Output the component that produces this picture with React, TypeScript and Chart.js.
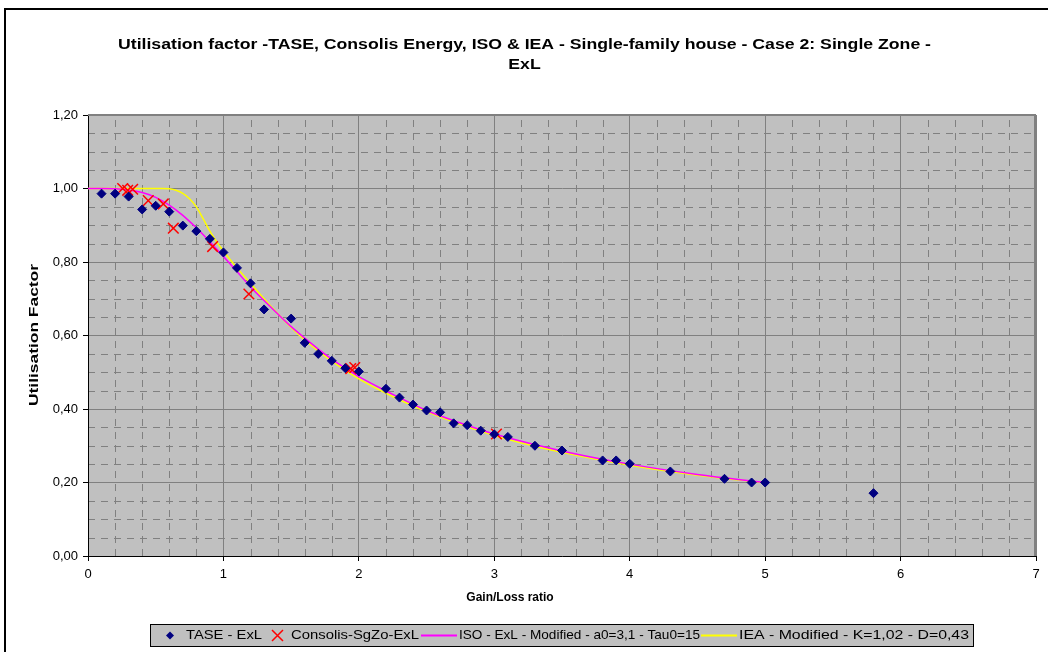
import React, { useEffect, useRef } from "react";
import { Chart, registerables } from "chart.js";

Chart.register(...registerables);

const TITLE_LINES = [
  "Utilisation factor -TASE, Consolis Energy, ISO & IEA - Single-family house - Case 2: Single Zone -",
  "ExL",
];
const X_TITLE = "Gain/Loss ratio";
const Y_TITLE = "Utilisation Factor";
const SERIES_NAMES = [
  "TASE - ExL",
  "Consolis-SgZo-ExL",
  "ISO - ExL - Modified - a0=3,1 - Tau0=15",
  "IEA - Modified - K=1,02 - D=0,43",
];

const X_MIN = 0;
const X_MAX = 7;
const X_STEP = 1;
const Y_MIN = 0;
const Y_MAX = 1.2;
const Y_STEP = 0.2;

const taseX = [0.1, 0.2, 0.3, 0.4, 0.5, 0.6, 0.7, 0.8, 0.9, 1.0, 1.1, 1.2, 1.3, 1.5, 1.6, 1.7, 1.8, 1.9, 2.0, 2.2, 2.3, 2.4, 2.5, 2.6, 2.7, 2.8, 2.9, 3.0, 3.1, 3.3, 3.5, 3.8, 3.9, 4.0, 4.3, 4.7, 4.9, 5.0, 5.8];
const taseY = [0.986, 0.986, 0.978, 0.943, 0.953, 0.937, 0.899, 0.884, 0.863, 0.826, 0.784, 0.742, 0.671, 0.646, 0.58, 0.55, 0.531, 0.511, 0.502, 0.455, 0.431, 0.412, 0.396, 0.391, 0.361, 0.356, 0.341, 0.331, 0.324, 0.3, 0.287, 0.26, 0.26, 0.251, 0.23, 0.21, 0.2, 0.2, 0.171];

const consolisX = [0.256, 0.293, 0.33, 0.445, 0.556, 0.63, 0.92, 1.188, 1.94, 1.97, 3.016];
const consolisY = [1.0, 0.995, 0.998, 0.967, 0.958, 0.892, 0.842, 0.713, 0.51, 0.513, 0.332];

const isoX = [0, 0.1, 0.2, 0.3, 0.4, 0.5, 0.6, 0.7, 0.8, 0.9, 1.0, 1.1, 1.2, 1.3, 1.4, 1.5, 1.6, 1.7, 1.8, 1.9, 2.0, 2.25, 2.5, 2.75, 3.0, 3.5, 4.0, 4.5, 5.0];
const isoY = [1.0, 1.0, 0.999, 0.996, 0.989, 0.976, 0.955, 0.927, 0.893, 0.855, 0.815, 0.774, 0.732, 0.695, 0.659, 0.624, 0.593, 0.563, 0.536, 0.511, 0.488, 0.44, 0.396, 0.362, 0.332, 0.286, 0.25, 0.222, 0.2];

const ieaX = [0, 0.55, 0.6, 0.65, 0.7, 0.75, 0.8, 0.85, 0.9, 0.95, 1.0, 1.1, 1.2, 1.3, 1.4, 1.5, 1.6, 1.8, 2.0, 2.25, 2.5, 3.0, 3.5, 4.0, 4.5, 5.0];
const ieaY = [1.0, 1.0, 0.999, 0.995, 0.987, 0.972, 0.95, 0.918, 0.884, 0.855, 0.83, 0.784, 0.742, 0.7, 0.66, 0.622, 0.588, 0.53, 0.482, 0.434, 0.393, 0.328, 0.282, 0.247, 0.22, 0.199];

const COLORS = {
  tase: "#000080",
  consolis: "#FF0000",
  iso: "#FF00FF",
  iea: "#FFFF00",
  plot: "#C0C0C0",
  grid: "#808080",
};

const FONT = "'Liberation Sans', Arial, sans-serif";

function pts(xs: number[], ys: number[]) {
  return xs.map((x, i) => ({ x, y: ys[i] }));
}

function fitText(ctx: CanvasRenderingContext2D, text: string, x: number, y: number, sx: number, align: "left" | "center") {
  ctx.save();
  ctx.translate(x, y);
  ctx.scale(sx, 1);
  ctx.textAlign = align;
  ctx.textBaseline = "middle";
  ctx.fillText(text, 0, 0);
  ctx.restore();
}

const decorPlugin = {
  id: "decor",
  beforeDraw(chart: any) {
    const { ctx, chartArea: a, scales } = chart;
    ctx.save();
    ctx.fillStyle = "#FFFFFF";
    ctx.fillRect(0, 0, chart.width, chart.height);
    ctx.strokeStyle = "#000000";
    ctx.lineWidth = 2;
    ctx.strokeRect(5, 9, chart.width + 20, chart.height + 20);
    ctx.fillStyle = COLORS.plot;
    ctx.fillRect(a.left, a.top, a.right - a.left, a.bottom - a.top);
    // minor dashed grid
    ctx.strokeStyle = COLORS.grid;
    ctx.lineWidth = 1;
    ctx.setLineDash([7, 6]);
    const xs = scales.x;
    const ys = scales.y;
    for (let i = 1; i < 35; i++) {
      if (i % 5 === 0) continue;
      const px = Math.round(xs.getPixelForValue(i * 0.2)) + 0.5;
      ctx.beginPath();
      ctx.moveTo(px, a.bottom);
      ctx.lineTo(px, a.top);
      ctx.stroke();
    }
    for (let i = 1; i < 24; i++) {
      if (i % 4 === 0) continue;
      const py = Math.round(ys.getPixelForValue(i * 0.05)) + 0.5;
      ctx.beginPath();
      ctx.moveTo(a.left, py);
      ctx.lineTo(a.right, py);
      ctx.stroke();
    }
    ctx.restore();
  },
  beforeDatasetsDraw(chart: any) {
    const { ctx, chartArea: a } = chart;
    ctx.save();
    ctx.strokeStyle = COLORS.grid;
    ctx.lineWidth = 2;
    ctx.beginPath();
    ctx.moveTo(a.left, a.top);
    ctx.lineTo(a.right - 1, a.top);
    ctx.lineTo(a.right - 1, a.bottom);
    ctx.stroke();
    ctx.restore();
  },
  afterDraw(chart: any) {
    const { ctx } = chart;
    ctx.save();
    // title
    ctx.fillStyle = "#000";
    ctx.font = `bold 14px ${FONT}`;
    const w1 = ctx.measureText(TITLE_LINES[0]).width;
    const tsx = 813 / w1;
    fitText(ctx, TITLE_LINES[0], 524.5, 45, tsx, "center");
    fitText(ctx, TITLE_LINES[1], 524.5, 65, tsx, "center");

    // axis titles
    ctx.font = `bold 12px ${FONT}`;
    fitText(ctx, X_TITLE, 510, 598, 1, "center");
    const wy = ctx.measureText(Y_TITLE).width;
    ctx.save();
    ctx.translate(35, 335);
    ctx.rotate(-Math.PI / 2);
    fitText(ctx, Y_TITLE, 0, 0, 142 / wy, "center");
    ctx.restore();

    // legend
    const bx = 150.5, by = 624.5, bw = 823, bh = 22;
    ctx.fillStyle = COLORS.plot;
    ctx.fillRect(bx, by, bw, bh);
    ctx.strokeStyle = "#000";
    ctx.lineWidth = 1;
    ctx.strokeRect(bx, by, bw, bh);
    const cy = 635.5;
    // diamond
    ctx.fillStyle = COLORS.tase;
    ctx.beginPath();
    ctx.moveTo(170, cy - 4);
    ctx.lineTo(174, cy);
    ctx.lineTo(170, cy + 4);
    ctx.lineTo(166, cy);
    ctx.closePath();
    ctx.fill();
    // cross
    ctx.strokeStyle = COLORS.consolis;
    ctx.lineWidth = 1.5;
    ctx.beginPath();
    ctx.moveTo(272, cy - 5.5);
    ctx.lineTo(283, cy + 5.5);
    ctx.moveTo(283, cy - 5.5);
    ctx.lineTo(272, cy + 5.5);
    ctx.stroke();
    // lines
    ctx.lineWidth = 2;
    ctx.strokeStyle = COLORS.iso;
    ctx.beginPath();
    ctx.moveTo(421, cy);
    ctx.lineTo(457, cy);
    ctx.stroke();
    ctx.strokeStyle = COLORS.iea;
    ctx.beginPath();
    ctx.moveTo(701, cy);
    ctx.lineTo(737, cy);
    ctx.stroke();

    ctx.fillStyle = "#000";
    ctx.font = `13px ${FONT}`;
    const items: [string, number, number][] = [
      [SERIES_NAMES[0], 186, 262],
      [SERIES_NAMES[1], 291, 419],
      [SERIES_NAMES[2], 459, 700],
      [SERIES_NAMES[3], 739, 969],
    ];
    items.forEach(([t, x0, x1]) => {
      const w = ctx.measureText(t).width;
      fitText(ctx, t, x0, cy, (x1 - x0) / w, "left");
    });
    ctx.restore();
  },
};

export default function App() {
  const ref = useRef<HTMLCanvasElement | null>(null);

  useEffect(() => {
    if (!ref.current) return;
    const chart = new Chart(ref.current, {
      type: "scatter",
      data: {
        datasets: [
          {
            label: SERIES_NAMES[0],
            data: pts(taseX, taseY),
            pointStyle: "rectRot",
            pointRadius: 4.5,
            backgroundColor: COLORS.tase,
            borderColor: COLORS.tase,
            borderWidth: 1,
            showLine: false,
          },
          {
            label: SERIES_NAMES[1],
            data: pts(consolisX, consolisY),
            pointStyle: "crossRot",
            pointRadius: 7.5,
            borderColor: COLORS.consolis,
            backgroundColor: COLORS.consolis,
            borderWidth: 1.5,
            showLine: false,
          },
          {
            label: SERIES_NAMES[2],
            data: pts(isoX, isoY),
            showLine: true,
            borderColor: COLORS.iso,
            backgroundColor: COLORS.iso,
            borderWidth: 1.5,
            pointRadius: 0,
            cubicInterpolationMode: "monotone",
          },
          {
            label: SERIES_NAMES[3],
            data: pts(ieaX, ieaY),
            showLine: true,
            borderColor: COLORS.iea,
            backgroundColor: COLORS.iea,
            borderWidth: 1.5,
            pointRadius: 0,
            cubicInterpolationMode: "monotone",
          },
        ],
      },
      options: {
        responsive: false,
        animation: false,
        devicePixelRatio: 1,
        layout: { padding: { left: 28, top: 115, right: 12, bottom: 47 } },
        plugins: {
          legend: { display: false },
          title: { display: false },
          tooltip: { enabled: false },
        },
        scales: {
          x: {
            type: "linear",
            min: X_MIN,
            max: X_MAX,
            ticks: {
              stepSize: X_STEP,
              color: "#000",
              font: { family: FONT, size: 13 },
              padding: 6,
              maxRotation: 0,
              callback: (v: any) => String(v),
            },
            grid: { color: COLORS.grid, lineWidth: 1, tickLength: 5, tickColor: "#000" },
            border: { color: "#000", width: 1 },
            title: { display: false },
            afterFit: (s: any) => {
              s.height = 49;
            },
          },
          y: {
            type: "linear",
            min: Y_MIN,
            max: Y_MAX,
            ticks: {
              stepSize: Y_STEP,
              color: "#000",
              font: { family: FONT, size: 13 },
              padding: 5,
              callback: (v: any) => Number(v).toFixed(2).replace(".", ","),
            },
            grid: { color: COLORS.grid, lineWidth: 1, tickLength: 5, tickColor: "#000" },
            border: { color: "#000", width: 1 },
            title: { display: false },
            afterFit: (s: any) => {
              s.width = 60;
            },
          },
        },
      },
      plugins: [decorPlugin],
    });
    return () => chart.destroy();
  }, []);

  return (
    <div style={{ position: "fixed", left: 0, top: 0, width: 1048, height: 652, background: "#fff" }}>
      <canvas ref={ref} width={1048} height={652} style={{ display: "block" }} />
    </div>
  );
}
